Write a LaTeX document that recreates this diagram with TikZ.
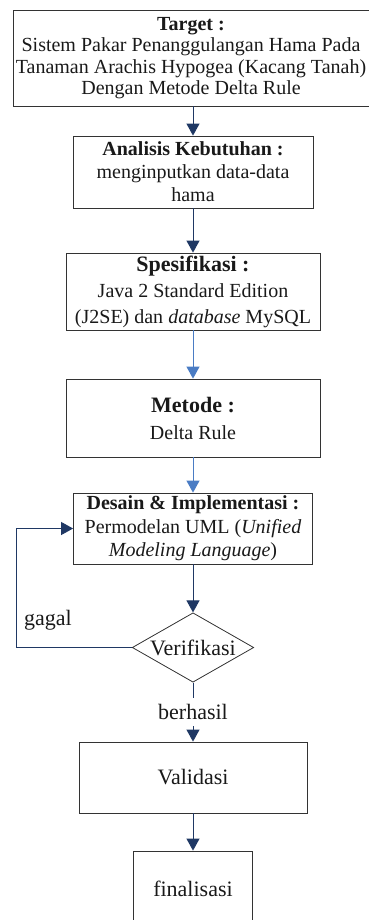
\documentclass[tikz,border=0pt]{standalone}
\usepackage{fontspec}
\setmainfont{Liberation Serif}
\usetikzlibrary{arrows.meta}
\usetikzlibrary{shapes.geometric}
\definecolor{navy}{HTML}{1F3864}
\definecolor{lightblue}{HTML}{4A7CC4}
\tikzset{box/.style={draw=black!80, line width=0.8pt, align=center, inner sep=0pt, text=black!90},
 darkline/.style={draw=navy, line width=0.9pt, -{Triangle[width=13pt,length=12pt]}},
 blueline/.style={draw=lightblue, line width=0.9pt, -{Triangle[width=13pt,length=12pt]}},
 plainfont/.style={font=\fontsize{22}{26}\selectfont},
 }

\begin{document}
\begin{tikzpicture}[x=1pt,y=-1pt]
        \useasboundingbox (0,0) rectangle (368,920);
        \node[box, minimum width=356pt, minimum height=96pt, font=\fontsize{20}{21.5}\selectfont] (target) at (191,58)
            {\textbf{Target :}\\Sistem Pakar Penanggulangan Hama Pada\\Tanaman Arachis Hypogea (Kacang Tanah)\\Dengan Metode Delta Rule};
        \node[box, minimum width=240pt, minimum height=72pt, font=\fontsize{20}{23}\selectfont] (analisis) at (193,172)
            {\textbf{Analisis Kebutuhan :}\\menginputkan data-data\\hama};
        \node[box, minimum width=254pt, minimum height=77pt, font=\fontsize{20}{26}\selectfont] (spesifikasi) at (193,291.5)
            {{\fontsize{22}{26}\selectfont\textbf{Spesifikasi :}}\\Java 2 Standard Edition\\(J2SE) dan \textit{database} MySQL};
        \node[box, minimum width=254pt, minimum height=78pt, font=\fontsize{20}{27}\selectfont] (metode) at (193,418)
            {{\fontsize{22}{27}\selectfont\textbf{Metode :}}\\Delta Rule};
        \node[box, minimum width=239pt, minimum height=71pt, font=\fontsize{20}{23.5}\selectfont] (desain) at (193,528.5)
            {\textbf{Desain \& Implementasi :}\\Permodelan UML (\textit{Unified}\\\textit{Modeling Language})};
        \node[box, diamond, aspect=1.75, inner sep=1.5pt, plainfont] (verifikasi) at (193,647.5) {Verifikasi};
        \node[box, minimum width=228pt, minimum height=71pt, plainfont] (validasi) at (193,777.5) {Validasi};
        \node[box, minimum width=119pt, minimum height=75pt, plainfont] (finalisasi) at (193,888.5) {finalisasi};
        \node[plainfont, text=black!90] (gagal) at (48,620) {gagal};
        \coordinate (loopcorner) at (16,647.5);

        \draw[darkline] (analisis.north |- target.south) -- (analisis.north);
        \draw[darkline] (analisis) -- (spesifikasi);
        \draw[blueline] (spesifikasi) -- (metode);
        \draw[blueline] (metode) -- (desain);
        \draw[darkline] (desain) -- (verifikasi);
        \draw[darkline] (verifikasi.west) -- (loopcorner) |- (desain.west);
        \draw[darkline] (verifikasi.south) -- node[fill=white, plainfont, text=black!90, inner xsep=2pt, inner ysep=6pt] (berhasil) {berhasil} (validasi.north);
        \draw[darkline] (validasi) -- (finalisasi);
    \end{tikzpicture}
\end{document}
